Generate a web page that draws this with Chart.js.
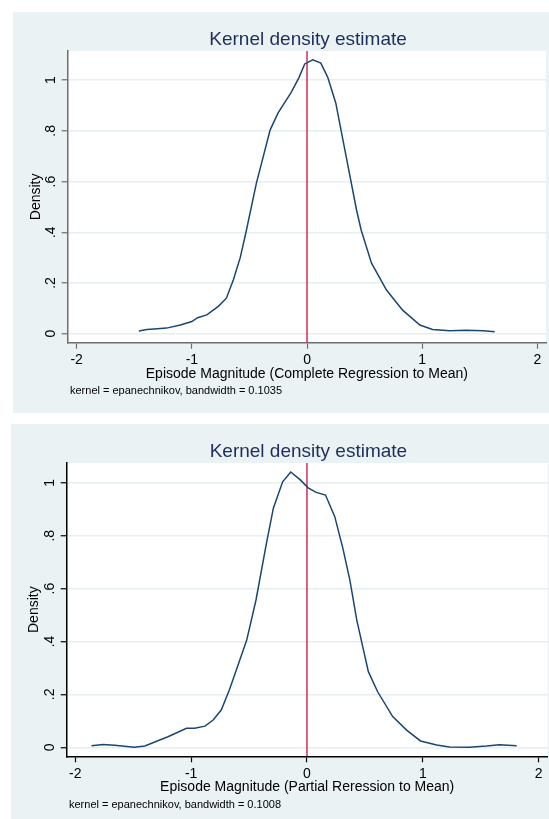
<!DOCTYPE html>
<html>
<head>
<meta charset="utf-8">
<script src="https://cdn.jsdelivr.net/npm/chart.js@4.4.0/dist/chart.umd.min.js"></script>
<style>
    body { margin: 0; background: #fff; width: 549px; height: 819px; overflow: hidden; position: relative; }
    .panel { position: absolute; background: #eaf2f3; }
    #p1 { left: 13px; top: 12px; width: 536px; height: 401px; }
    #p2 { left: 11px; top: 424px; width: 538px; height: 395px; }
    canvas { display: block; }
</style>
</head>
<body>
<div class="panel" id="p1"><canvas id="c1" width="536" height="401"></canvas></div>
<div class="panel" id="p2"><canvas id="c2" width="538" height="395"></canvas></div>
<script>
// 축 눈금
const xTicks = [-2, -1, 0, 1, 2];
const yTicks = [0, 0.2, 0.4, 0.6, 0.8, 1];
const refLineX = 0;

// 위쪽: Complete Regression to Mean
const completeX = [-1.46, -1.39, -1.30, -1.22, -1.10, -1.00, -0.95, -0.87, -0.77, -0.70, -0.64, -0.58, -0.53, -0.44, -0.32, -0.25, -0.14, -0.07, -0.02, 0.05, 0.12, 0.18, 0.25, 0.34, 0.43, 0.47, 0.56, 0.69, 0.83, 0.98, 1.09, 1.24, 1.38, 1.53, 1.63];
const completeY = [0.011, 0.017, 0.020, 0.022, 0.034, 0.048, 0.063, 0.074, 0.108, 0.140, 0.212, 0.300, 0.400, 0.593, 0.804, 0.872, 0.950, 1.010, 1.064, 1.080, 1.067, 1.011, 0.909, 0.698, 0.488, 0.409, 0.278, 0.172, 0.093, 0.034, 0.017, 0.012, 0.014, 0.012, 0.008];

// 아래쪽: Partial Reression to Mean
const partialX = [-1.86, -1.76, -1.66, -1.49, -1.40, -1.20, -1.04, -0.97, -0.88, -0.81, -0.74, -0.67, -0.60, -0.52, -0.48, -0.44, -0.35, -0.29, -0.21, -0.14, -0.06, 0.01, 0.08, 0.16, 0.24, 0.31, 0.37, 0.43, 0.53, 0.61, 0.74, 0.86, 0.98, 1.12, 1.23, 1.40, 1.55, 1.66, 1.81];
const partialY = [0.006, 0.011, 0.008, 0.000, 0.005, 0.040, 0.072, 0.072, 0.080, 0.103, 0.141, 0.217, 0.305, 0.406, 0.481, 0.557, 0.771, 0.904, 1.004, 1.041, 1.012, 0.981, 0.964, 0.954, 0.872, 0.752, 0.633, 0.481, 0.286, 0.210, 0.116, 0.065, 0.024, 0.009, 0.001, 0.000, 0.005, 0.010, 0.006];

const chartTitle = 'Kernel density estimate';
const yTitle = 'Density';

const FONT = '"Liberation Sans", Arial, sans-serif';

// 제목 + 주석 그리기
const stataText = {
    id: 'stataText',
    beforeDraw(chart) {
        const a = chart.chartArea;
        const ctx = chart.ctx;
        ctx.save();
        ctx.fillStyle = '#ffffff';
        ctx.fillRect(a.left, a.top, a.right - a.left, a.bottom - a.top);
        ctx.restore();
    },
    afterDraw(chart, args, opts) {
        const a = chart.chartArea;
        const ctx = chart.ctx;
        ctx.save();
        ctx.fillStyle = '#1e2d5c';
        ctx.font = '19px ' + FONT;
        ctx.textAlign = 'center';
        ctx.textBaseline = 'alphabetic';
        ctx.fillText(chartTitle, (a.left + a.right) / 2 + 1.2, a.top - 6);
        ctx.fillStyle = '#000';
        ctx.font = '11px ' + FONT;
        ctx.textAlign = 'left';
        ctx.fillText(opts.note, a.left + 2.3, a.bottom + 51.3);
        ctx.restore();
    }
};

function makeChart(id, xs, ys, cfg) {
    const canvas = document.getElementById(id);
    const W = canvas.width, H = canvas.height;
    const area = cfg.area;
    const xScaleH = H - area.bottom;
    const points = xs.map((x, i) => ({x: x, y: ys[i]}));

    return new Chart(canvas, {
        type: 'line',
        data: {
            datasets: [{
                data: points,
                borderColor: '#1a476f',
                borderWidth: 1.5,
                pointRadius: 0,
                tension: 0,
                fill: false
            }, {
                data: [{x: refLineX, y: cfg.yMin}, {x: refLineX, y: cfg.yMax}],
                borderColor: '#c8103c',
                borderWidth: 1.3,
                pointRadius: 0,
                fill: false
            }]
        },
        options: {
            responsive: false,
            animation: false,
            devicePixelRatio: 1,
            layout: { padding: { top: area.top, left: 0, right: W - area.right, bottom: 0 } },
            plugins: {
                legend: { display: false },
                tooltip: { enabled: false },
                stataText: { note: cfg.note }
            },
            scales: {
                x: {
                    type: 'linear',
                    min: cfg.xMin,
                    max: cfg.xMax,
                    afterBuildTicks: s => { s.ticks = xTicks.map(v => ({value: v})); },
                    afterFit: s => { s.height = xScaleH; },
                    grid: { drawOnChartArea: false, drawTicks: true, tickLength: 6, tickColor: cfg.axisColor, tickWidth: 1.2 },
                    border: { color: cfg.axisColor, width: 1.5 },
                    ticks: { color: '#000', font: { family: FONT, size: 14 }, padding: 3.5, maxRotation: 0, callback: v => String(v) },
                    title: { display: true, text: cfg.xTitle, color: '#000', font: { family: FONT, size: 14 },
                        padding: { top: 0, bottom: xScaleH - 36 + 4.9 - 8.4 } }
                },
                y: {
                    min: cfg.yMin,
                    max: cfg.yMax,
                    afterBuildTicks: s => { s.ticks = yTicks.map(v => ({value: v})); },
                    afterFit: s => { s.width = area.left; },
                    grid: { color: '#e6eef0', lineWidth: 1.5, drawTicks: true, tickLength: 6, tickColor: cfg.axisColor, tickWidth: 1.2 },
                    border: { color: cfg.axisColor, width: 1.5 },
                    ticks: {
                        color: '#000', font: { family: FONT, size: 14 }, padding: 5,
                        minRotation: 90, maxRotation: 90, crossAlign: 'center',
                        callback: v => (v === 0 ? '0' : v === 1 ? '1' : String(v).replace(/^0/, ''))
                    },
                    title: { display: true, text: yTitle, color: '#000', font: { family: FONT, size: 14 },
                        padding: { top: 14.4, bottom: 0 } }
                }
            }
        },
        plugins: [stataText]
    });
}

makeChart('c1', completeX, completeY, {
    xTitle: 'Episode Magnitude (Complete Regression to Mean)',
    note: 'kernel = epanechnikov, bandwidth = 0.1035',
    xMin: -2.078, xMax: 2.075, yMin: -0.0355, yMax: 1.115,
    axisColor: '#6e6e6e',
    area: { left: 54.7, right: 533, top: 39, bottom: 330.7 }
});

makeChart('c2', partialX, partialY, {
    xTitle: 'Episode Magnitude (Partial Reression to Mean)',
    note: 'kernel = epanechnikov, bandwidth = 0.1008',
    xMin: -2.074, xMax: 2.078, yMin: -0.034, yMax: 1.075,
    axisColor: '#000000',
    area: { left: 55.7, right: 536.7, top: 39, bottom: 332.3 }
});
</script>
</body>
</html>
